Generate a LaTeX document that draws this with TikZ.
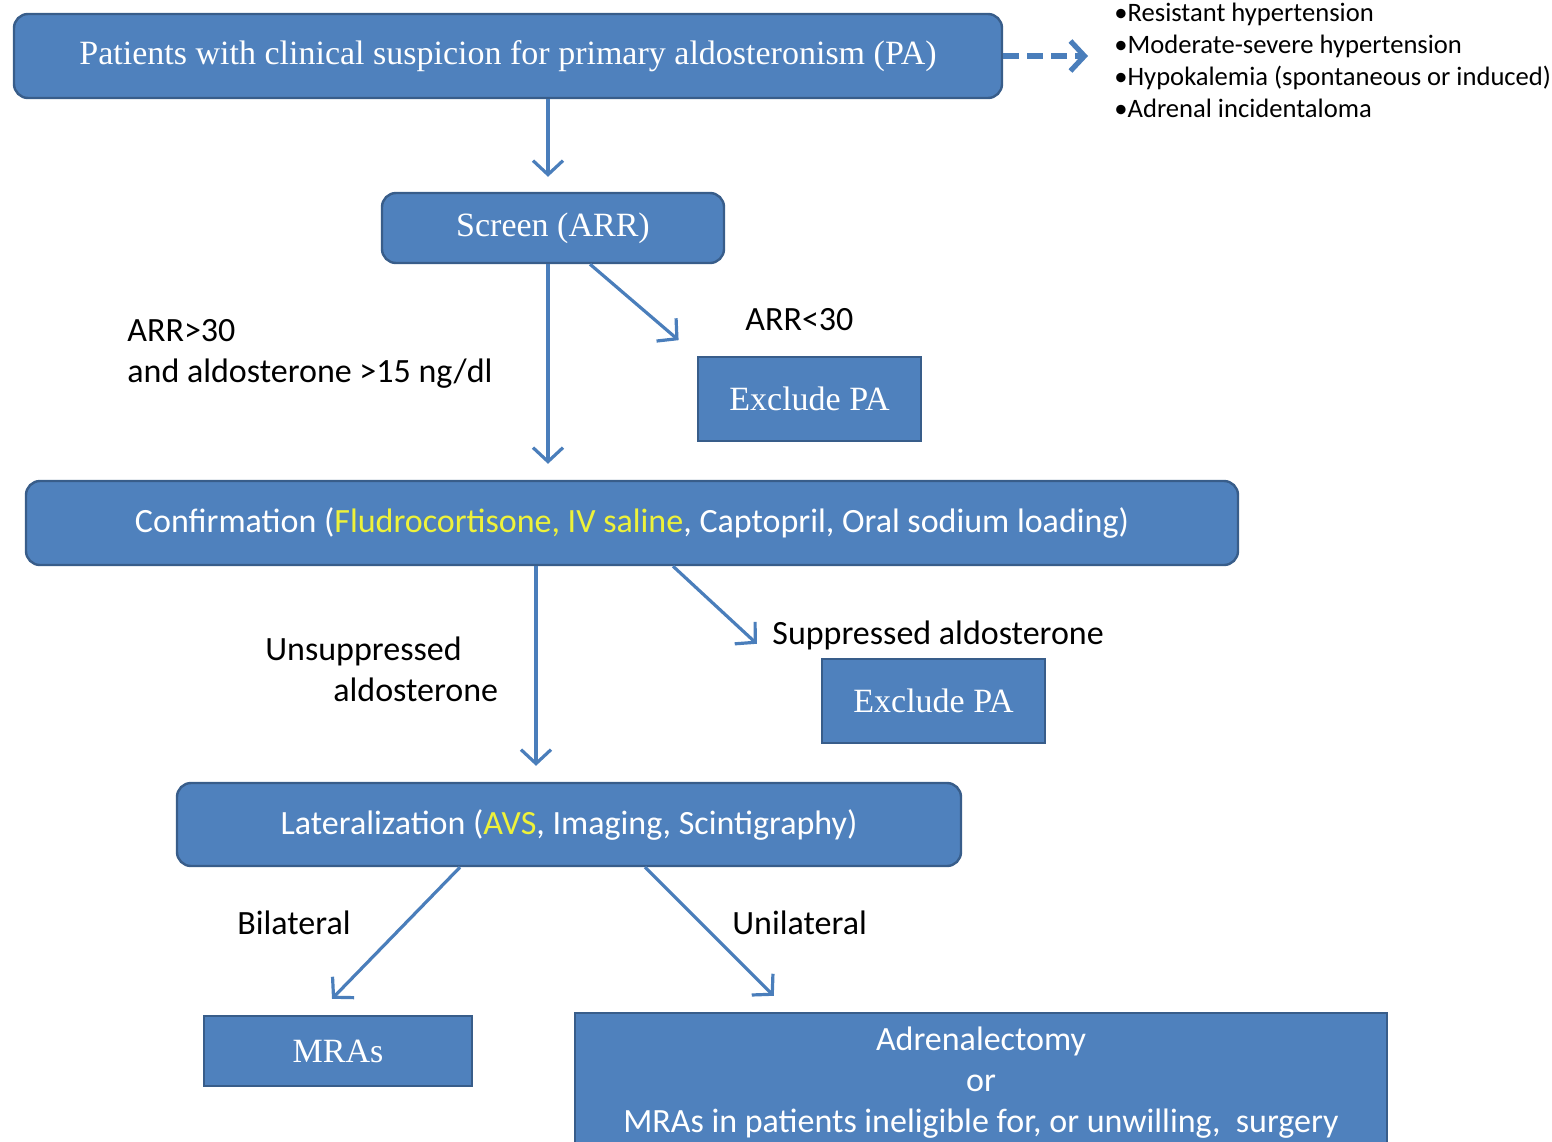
\documentclass[tikz,border=0pt]{standalone}
\usepackage{fontspec}
\setmainfont{Liberation Serif}
\newfontfamily\calib{Carlito}
\usepackage{xcolor}
\usetikzlibrary{arrows.meta,positioning}
\definecolor{boxblue}{HTML}{4F81BD}
\definecolor{boxline}{HTML}{385D8A}
\definecolor{arrowblue}{HTML}{4A7EBB}
\definecolor{hiyellow}{HTML}{EEF23A}

\begin{document}
\begin{tikzpicture}[x=0.5pt,y=-0.5pt,>={Straight Barb[length=7pt,width=15pt]},
	box/.style={draw=boxline,line width=1.2pt,fill=boxblue,text=white,inner sep=0pt,font=\fontsize{17}{20}\selectfont},
	rbox/.style={box,rounded corners=7pt},
	sansbox/.style={font=\calib\fontsize{17}{20.5}\selectfont},
	lbl/.style={font=\calib\fontsize{17}{20.5}\selectfont,inner sep=0pt},
	flow/.style={->,draw=arrowblue,line width=1.6pt}]
			
			\useasboundingbox (0,0) rectangle (1552,1141);
			
			% suspicion
			\node[rbox,minimum width=494pt,minimum height=42pt] (suspect) at (508,56)
			{Patients with clinical suspicion for primary aldosteronism (PA)};
			\node[lbl,anchor=west,align=left,font=\calib\fontsize{13.3}{16}\selectfont] (criteria) at (1114,60)
			{•Resistant hypertension\\•Moderate-severe hypertension\\•Hypokalemia (spontaneous or induced)\\•Adrenal incidentaloma};
			\draw[flow,line width=2.6pt,dash pattern=on 8pt off 4pt,shorten >=13pt] (suspect.east) -- (criteria.west |- suspect.east);
			
			% screening
			\node[rbox,minimum width=171pt,minimum height=35pt] (screen) at (553,228) {Screen (ARR)};
			\node[box,minimum width=111.5pt,minimum height=42pt] (excl1) at (809.5,399) {Exclude PA};
			\node[lbl,anchor=west] (lt30) at (745,320) {ARR<30};
			\node[lbl,anchor=west,align=left] (gt30) at (127,354) {ARR>30\\and aldosterone >15 ng/dl};
			
			\draw[flow,shorten >=7.5pt] ([xshift=-2.5pt]screen.north |- suspect.south) -- ([xshift=-2.5pt]screen.north);
			\draw[flow,shorten >=12pt] ([xshift=18.5pt]screen.south) -- (excl1.north west);
			
			% confirmation
			\node[rbox,sansbox,minimum width=606pt,minimum height=42pt] (confirm) at (632,523)
			{Confirmation (\textcolor{hiyellow}{Fludrocortisone, IV saline}, Captopril, Oral sodium loading)};
			\node[box,minimum width=111.5pt,minimum height=42pt] (excl2) at (933.5,701) {Exclude PA};
			\node[lbl,anchor=west] (supp) at (772,635) {Suppressed aldosterone};
			\node[lbl,anchor=west,align=left] (unsupp) at (265,669) {Unsuppressed\\\hspace*{34pt}aldosterone};
			
			\draw[flow,shorten >=8pt] ([xshift=-2.5pt]screen.south) -- ([xshift=-2.5pt]screen.south |- confirm.north);
			\draw[flow] ([xshift=20.5pt]confirm.south) -- ([xshift=-32pt,yshift=7pt]excl2.north west);
			
			% lateralization
			\node[rbox,sansbox,minimum width=392pt,minimum height=41.5pt] (later) at (569,824.5)
			{Lateralization (\textcolor{hiyellow}{AVS}, Imaging, Scintigraphy)};
			\draw[flow,shorten >=8pt] ([xshift=-16.5pt]later.north |- confirm.south) -- ([xshift=-16.5pt]later.north);
			
			% treatment
			\node[box,minimum width=134pt,minimum height=35pt] (mras) at (338,1051) {MRAs};
			\node[box,sansbox,minimum width=406pt,minimum height=70pt,align=center] (adrenal) at (981,1083)
			{Adrenalectomy\\or\\MRAs in patients ineligible for, or unwilling,\ \ surgery};
			\node[lbl,anchor=west] (bilat) at (237,923) {Bilateral};
			\node[lbl,anchor=west] (unilat) at (732,923) {Unilateral};
			
			\draw[flow] ([xshift=-54.5pt]later.south) -- ([xshift=-3pt,yshift=8pt]mras.north);
			\draw[flow] ([xshift=38pt]later.south) -- ([xshift=100pt,yshift=8pt]adrenal.north west);
			
		\end{tikzpicture}
\end{document}
